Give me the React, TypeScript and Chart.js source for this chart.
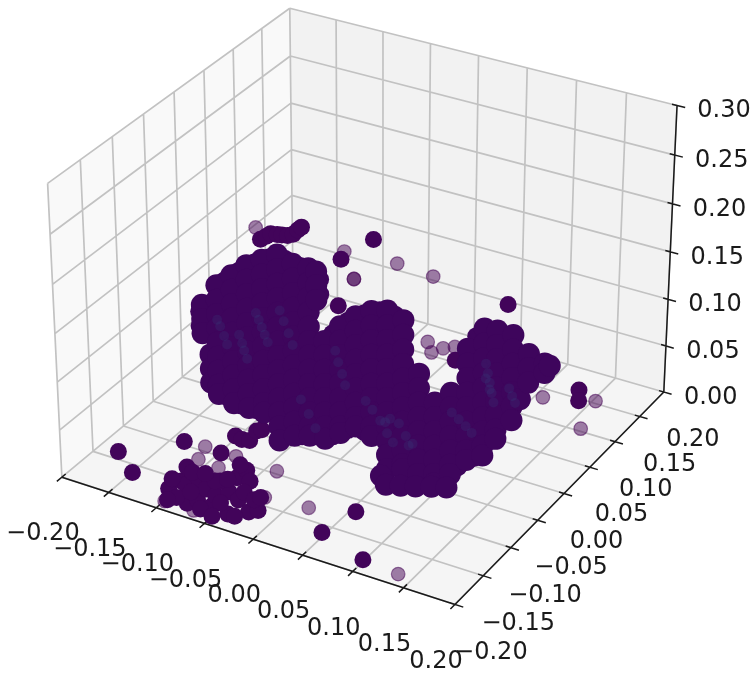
import React, { useEffect, useRef } from "react";
import { Chart, registerables } from "chart.js";

Chart.register(...registerables);

const xTicks = [-0.2, -0.15, -0.1, -0.05, 0, 0.05, 0.1, 0.15, 0.2];
const yTicks = [-0.2, -0.15, -0.1, -0.05, 0, 0.05, 0.1, 0.15, 0.2];
const zTicks = [0, 0.05, 0.1, 0.15, 0.2, 0.25, 0.3];
const xyTickLabels = ["\u22120.20", "\u22120.15", "\u22120.10", "\u22120.05", "0.00", "0.05", "0.10", "0.15", "0.20"];
const zTickLabels = ["0.00", "0.05", "0.10", "0.15", "0.20", "0.25", "0.30"];

// main body of the cloud: columns of x, each with its z values, at y = mainY
const mainY = -0.05;
const mainX = [-0.144, -0.136, -0.128, -0.112, -0.096, -0.08, -0.064, -0.048, -0.032, -0.024, -0.016, 0, 0.016, 0.032, 0.048, 0.064, 0.08, 0.096, 0.112, 0.128, 0.144];
const mainZ = [
  [0.12, 0.105, 0.09],
  [0.07, 0.055, 0.04],
  [0.145, 0.13, 0.115, 0.1, 0.085, 0.07, 0.055, 0.04, 0.03],
  [0.16, 0.145, 0.13, 0.115, 0.1, 0.085, 0.07, 0.055, 0.04, 0.025],
  [0.175, 0.16, 0.145, 0.13, 0.115, 0.1, 0.085, 0.07, 0.055, 0.04, 0.025],
  [0.185, 0.17, 0.155, 0.14, 0.125, 0.11, 0.095, 0.08, 0.065, 0.05, 0.035, 0.025],
  [0.195, 0.18, 0.165, 0.15, 0.135, 0.12, 0.105, 0.09, 0.075, 0.06, 0.045, 0.03, 0.015, 0],
  [0.19, 0.175, 0.16, 0.145, 0.13, 0.115, 0.1, 0.085, 0.07, 0.055, 0.04, 0.025, 0.01],
  [0.19, 0.175, 0.16, 0.145, 0.13, 0.115, 0.1, 0.085, 0.07, 0.055, 0.04, 0.025, 0.015],
  [0.189, 0.175, 0.16],
  [0.12, 0.105, 0.09, 0.075, 0.06, 0.045, 0.03, 0.017],
  [0.14, 0.125, 0.11, 0.095, 0.08, 0.065, 0.05, 0.035, 0.028],
  [0.155, 0.14, 0.125, 0.11, 0.095, 0.08, 0.065, 0.05, 0.04],
  [0.165, 0.15, 0.135, 0.12, 0.105, 0.09, 0.075, 0.06, 0.045, 0.035],
  [0.17, 0.155, 0.14, 0.125, 0.11, 0.095, 0.08, 0.065, 0.05, 0.035, 0.02, 0.005],
  [0.165, 0.15, 0.135, 0.12, 0.105, 0.09, 0.075, 0.06, 0.045, 0.03, 0.015, 0.01],
  [0.115, 0.1, 0.085, 0.07, 0.055, 0.04, 0.025, 0.01],
  [0.09, 0.075, 0.06, 0.045, 0.03, 0.015, 0.005],
  [0.105, 0.09, 0.075, 0.06, 0.045, 0.03, 0.02],
  [0.155, 0.14, 0.125, 0.11, 0.095, 0.08, 0.065, 0.05, 0.04],
  [0.18, 0.165, 0.15, 0.135, 0.12, 0.105, 0.09, 0.075, 0.06, 0.05],
];

// points along the rim of the main body
const rimX = [-0.12, -0.104, -0.088, -0.072, -0.056, -0.04, -0.008, 0.008, 0.024, 0.04, 0.056, 0.136,
  -0.12, -0.104, -0.088, -0.04, -0.024, -0.008, 0.008, 0.024, 0.088, 0.104, 0.12, 0.136,
  -0.147, -0.147, -0.02, -0.02];
const rimZ = [0.152, 0.167, 0.18, 0.19, 0.193, 0.19, 0.13, 0.148, 0.16, 0.168, 0.168, 0.17,
  0.03, 0.025, 0.025, 0.012, 0.017, 0.022, 0.034, 0.037, 0.008, 0.012, 0.03, 0.045,
  0.112, 0.097, 0.182, 0.167];

// right-hand lobe, further back
const rearY = 0.05;
const rearX = [0.104, 0.12, 0.128, 0.136, 0.152, 0.157];
const rearZ = [
  [0.115, 0.1, 0.085, 0.07, 0.055, 0.04, 0.025, 0.01, 0],
  [0.115, 0.1, 0.085, 0.07, 0.055, 0.04, 0.025],
  [0.05],
  [0.1, 0.085, 0.07],
  [0.095, 0.085],
  [0.094],
];

// lower front edge of the body
const frontY = -0.08;
const frontX = [0.059, 0.064, 0.079, 0.094, 0.11, 0.125];
const frontZ = [0.018, 0.01, 0.014, 0.018, 0.023, 0.027];

// small dense clusters and opaque single spots
const darkX = [-0.143, -0.1366, -0.132, -0.125, -0.12, -0.114, -0.108, -0.103, -0.099, -0.0575, -0.0606, -0.0236, 0.114, 0.0616, 0.162, 0.162,
  -0.171, -0.141, -0.129, -0.09, 0.063, 0.054, 0.106,
  -0.094, -0.086, -0.079, -0.082, -0.079,
  -0.099, -0.096, -0.104, -0.089, -0.072, -0.082, -0.067, -0.07, -0.051, -0.057, -0.05, -0.032, -0.056, -0.036, -0.055, -0.043, -0.018, -0.012, -0.025, -0.057, -0.066,
  -0.105, -0.085, -0.095, -0.079, -0.07, -0.047, -0.038, -0.024, -0.065, -0.062, -0.084, -0.09, -0.042, -0.021];
const darkY = [0.05, 0.05, 0.05, 0.05, 0.05, 0.05, 0.05, 0.05, 0.05, 0.05, 0.05, 0.05, 0.05, 0.05, 0.1, 0.1,
  -0.152, -0.175, -0.108, -0.108, -0.131, -0.174, -0.193,
  -0.077, -0.079, -0.077, -0.06, -0.056,
  -0.181, -0.165, -0.143, -0.168, -0.193, -0.157, -0.184, -0.165, -0.187, -0.17, -0.159, -0.19, -0.136, -0.166, -0.121, -0.135, -0.178, -0.172, -0.19, -0.195, -0.148,
  -0.166, -0.19, -0.148, -0.176, -0.15, -0.178, -0.153, -0.159, -0.116, -0.142, -0.144, -0.197, -0.2, -0.153];
const darkZ = [0.14, 0.145, 0.149, 0.15, 0.151, 0.152, 0.155, 0.161, 0.165, 0.143, 0.093, 0.173, 0.145, 0.071, 0.0436, 0.032,
  0.01, 0.01, 0.01, 0.01, 0.01, 0.01, 0.01,
  0.01, 0.01, 0.01, 0.01, 0.01,
  0.01, 0.01, 0.01, 0.01, 0.01, 0.01, 0.01, 0.01, 0.01, 0.01, 0.01, 0.01, 0.01, 0.01, 0.01, 0.01, 0.01, 0.01, 0.01, 0.01, 0.01,
  0.01, 0.01, 0.01, 0.01, 0.01, 0.01, 0.01, 0.01, 0.01, 0.01, 0.01, 0.01, 0.01, 0.01];

// isolated translucent spots
const lightX = [-0.148, -0.054, -0.044, 0.001, 0.038, 0.033, 0.037, 0.049, 0.061, 0.151, 0.179, 0.165, -0.108, -0.0755, -0.079, -0.102, -0.031, -0.018, 0.024, 0.143, -0.091, -0.061, -0.044];
const lightY = [0.05, 0.05, 0.05, 0.05, 0.05, 0.05, 0.05, 0.05, 0.05, 0.05, 0.1, 0.1, -0.106, -0.106, -0.13, -0.127, -0.109, -0.151, -0.146, -0.197, -0.2, -0.2, 0.05];
const lightZ = [0.151, 0.152, 0.126, 0.155, 0.152, 0.082, 0.072, 0.08, 0.085, 0.059, 0.037, 0.003, 0.01, 0.01, 0.01, 0.01, 0.01, 0.01, 0.01, 0.01, 0.01, 0.01, 0.126];

// points of higher colour value showing through the body
const streakX = [-0.087, -0.084, -0.081, -0.078, -0.075, -0.105, -0.102, -0.1, -0.097, -0.128, -0.125, -0.121, -0.118, -0.062, -0.058, -0.053, -0.049,
  0.146, 0.148, 0.15, 0.152, 0.154, 0.146, 0.15, 0.169, 0.172, 0.175,
  0.046, 0.051, 0.06, 0.067, 0.07, 0.054, 0.048, 0.074,
  0.113, 0.12, 0.127, 0.133, -0.005, -0.002, 0.002, 0.005, 0.026, 0.033, 0.041, -0.041, -0.033, -0.026];
const streakZ = [0.128, 0.122, 0.115, 0.108, 0.101, 0.1, 0.092, 0.085, 0.077, 0.109, 0.103, 0.094, 0.086, 0.138, 0.128, 0.117, 0.106,
  0.145, 0.136, 0.127, 0.117, 0.108, 0.13, 0.12, 0.127, 0.12, 0.114,
  0.054, 0.059, 0.057, 0.046, 0.037, 0.035, 0.043, 0.04,
  0.085, 0.08, 0.075, 0.07, 0.113, 0.102, 0.091, 0.08, 0.07, 0.063, 0.054, 0.051, 0.038, 0.025];

const AXIS_LO = -0.2;
const AXIS_HI = 0.2;
const Z_LO = 0;
const Z_HI = 0.3;

// matplotlib's default 3D camera (elev 30, azim -60, box 4:4:3, distance 10)
const BOX_SCALE = 2.976;
function project(x: number, y: number, z: number) {
  const dx = x * BOX_SCALE;
  const dy = y * BOX_SCALE;
  const dz = (z - 0.15) * BOX_SCALE;
  const xv = 0.866 * dx + 0.5 * dy;
  const yv = -0.25 * dx + 0.433 * dy + 0.866 * dz;
  const depth = 10 - (0.433 * dx - 0.75 * dy + 0.5 * dz);
  return { x: xv / depth, y: yv / depth };
}

const SX = 3783;
const SY = 3750;
const CX = 368.4;
const CY = 292;

type P = { x: number; y: number };
const BREAK: P = { x: NaN, y: NaN };

function gridSegments(): P[] {
  const out: P[] = [];
  const seg = (a: number[], b: number[]) => {
    out.push(project(a[0], a[1], a[2]), project(b[0], b[1], b[2]), BREAK);
  };
  for (const t of xTicks) {
    seg([t, AXIS_LO, Z_LO], [t, AXIS_HI, Z_LO]);
    seg([t, AXIS_HI, Z_LO], [t, AXIS_HI, Z_HI]);
  }
  for (const t of yTicks) {
    seg([AXIS_LO, t, Z_LO], [AXIS_HI, t, Z_LO]);
    seg([AXIS_LO, t, Z_LO], [AXIS_LO, t, Z_HI]);
  }
  for (const t of zTicks) {
    seg([AXIS_LO, AXIS_LO, t], [AXIS_LO, AXIS_HI, t]);
    seg([AXIS_LO, AXIS_HI, t], [AXIS_HI, AXIS_HI, t]);
  }
  return out;
}

function axisSegments(): P[] {
  const out: P[] = [];
  const seg = (a: number[], b: number[]) => {
    out.push(project(a[0], a[1], a[2]), project(b[0], b[1], b[2]), BREAK);
  };
  seg([AXIS_LO, AXIS_LO, Z_LO], [AXIS_HI, AXIS_LO, Z_LO]);
  seg([AXIS_HI, AXIS_LO, Z_LO], [AXIS_HI, AXIS_HI, Z_LO]);
  seg([AXIS_HI, AXIS_HI, Z_LO], [AXIS_HI, AXIS_HI, Z_HI]);
  for (const t of xTicks) seg([t, AXIS_LO - 0.008, Z_LO], [t, AXIS_LO + 0.006, Z_LO]);
  for (const t of yTicks) seg([AXIS_HI - 0.005, t, Z_LO], [AXIS_HI + 0.008, t, Z_LO]);
  for (const t of zTicks) seg([AXIS_HI - 0.005, AXIS_HI, t], [AXIS_HI + 0.008, AXIS_HI, t]);
  return out;
}

function pane(a: number[], b: number[], c: number[], d: number[]): P[] {
  return [a, b, c, d, a].map((p) => project(p[0], p[1], p[2]));
}

const paneStyle = (color: string, order: number) => ({
  showLine: true,
  fill: "shape",
  backgroundColor: color,
  borderWidth: 0,
  pointRadius: 0,
  order,
});

const tickTextPlugin = {
  id: "tickText",
  afterDatasetsDraw(chart: any) {
    const { ctx, scales } = chart;
    ctx.save();
    ctx.font = '24px "DejaVu Sans"';
    ctx.fillStyle = "#1a1a1a";
    ctx.textAlign = "center";
    ctx.textBaseline = "middle";
    const put = (label: string, p: P, ox: number, oy: number) => {
      ctx.fillText(label, scales.x.getPixelForValue(p.x) + ox, scales.y.getPixelForValue(p.y) + oy);
    };
    xTicks.forEach((t, i) => put(xyTickLabels[i], project(t, AXIS_LO, Z_LO), -19, 57));
    yTicks.forEach((t, i) => put(xyTickLabels[i], project(AXIS_HI, t, Z_LO), 32.5 - 17 * t, 48));
    zTicks.forEach((t, i) => put(zTickLabels[i], project(AXIS_HI, AXIS_HI, t), 47, 5.5));
    ctx.restore();
  },
};

export default function App() {
  const ref = useRef<HTMLCanvasElement>(null);
  useEffect(() => {
    const body: P[] = [];
    mainX.forEach((x, i) => mainZ[i].forEach((z) => body.push(project(x, mainY, z))));
    rearX.forEach((x, i) => rearZ[i].forEach((z) => body.push(project(x, rearY, z))));
    frontX.forEach((x, i) => body.push(project(x, frontY, frontZ[i])));
    const rim = rimX.map((x, i) => project(x, mainY, rimZ[i]));
    const dark = darkX.map((x, i) => project(x, darkY[i], darkZ[i]));
    const light = lightX.map((x, i) => project(x, lightY[i], lightZ[i]));
    const streak = streakX.map((x, i) => project(x, mainY, streakZ[i]));

    const chart = new Chart(ref.current!, {
      type: "scatter",
      data: {
        datasets: [
          { data: pane([AXIS_LO, AXIS_LO, Z_LO], [AXIS_LO, AXIS_HI, Z_LO], [AXIS_LO, AXIS_HI, Z_HI], [AXIS_LO, AXIS_LO, Z_HI]), ...paneStyle("#f9f9f9", 20) },
          { data: pane([AXIS_LO, AXIS_HI, Z_LO], [AXIS_HI, AXIS_HI, Z_LO], [AXIS_HI, AXIS_HI, Z_HI], [AXIS_LO, AXIS_HI, Z_HI]), ...paneStyle("#f2f2f2", 19) },
          { data: pane([AXIS_LO, AXIS_LO, Z_LO], [AXIS_HI, AXIS_LO, Z_LO], [AXIS_HI, AXIS_HI, Z_LO], [AXIS_LO, AXIS_HI, Z_LO]), ...paneStyle("#f5f5f5", 18) },
          { data: gridSegments(), showLine: true, borderColor: "#c2c2c2", borderWidth: 1.7, pointRadius: 0, order: 17 },
          { data: axisSegments(), showLine: true, borderColor: "#1a1a1a", borderWidth: 1.5, pointRadius: 0, order: 16 },
          { data: light, pointRadius: 6.8, backgroundColor: "rgba(68,1,84,0.5)", borderColor: "rgba(68,1,84,0.5)", borderWidth: 1.2, order: 6 },
          { data: dark, pointRadius: 8.5, backgroundColor: "rgb(66,4,90)", borderWidth: 0, order: 5 },
          { data: rim, pointRadius: 9, backgroundColor: "rgb(62,5,92)", borderWidth: 0, order: 4.5 },
          { data: body, pointRadius: 11, backgroundColor: "rgb(62,5,92)", borderWidth: 0, order: 4 },
          { data: streak, pointRadius: 5, backgroundColor: "rgba(50,105,150,0.13)", borderWidth: 0, order: 3 },
        ] as any,
      },
      options: {
        animation: false,
        responsive: false,
        layout: { padding: 0, autoPadding: false },
        plugins: { legend: { display: false }, tooltip: { enabled: false } },
        scales: {
          x: { type: "linear", display: false, min: -CX / SX, max: (755 - CX) / SX },
          y: { type: "linear", display: false, min: (CY - 674) / SY, max: CY / SY },
        },
      },
      plugins: [tickTextPlugin],
    });
    return () => chart.destroy();
  }, []);
  return (
    <canvas
      ref={ref}
      width={755}
      height={674}
      style={{ position: "absolute", left: 0, top: 0, width: 755, height: 674, filter: "blur(0.6px)" }}
    />
  );
}
